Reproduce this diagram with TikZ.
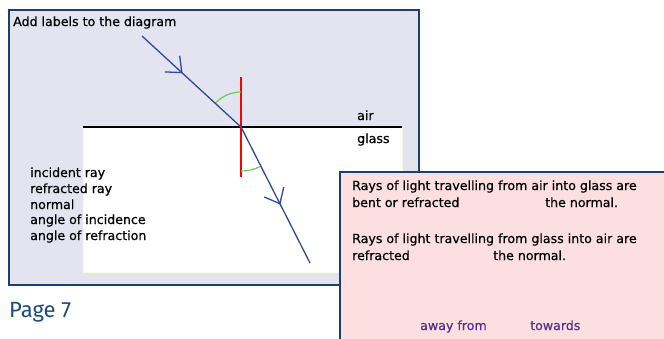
\documentclass[tikz,border=0pt]{standalone}
\usepackage{fontspec}
\setmainfont[BoldFont={DejaVu Sans}, BoldFeatures={FakeBold=0.6}]{DejaVu Sans}
\newfontfamily\pagefont{Fira Sans}
\usetikzlibrary{decorations.markings,arrows.meta}
\definecolor{panelA}{HTML}{E4E4F0}
\definecolor{panelB}{HTML}{FCE0E1}
\definecolor{frame}{HTML}{1B3F6E}
\definecolor{ray}{HTML}{2E4A9E}
\definecolor{arcg}{HTML}{66C845}
\definecolor{purp}{HTML}{5A2D91}
\definecolor{pagec}{HTML}{1F4A7C}
\tikzset{
  txt/.style={anchor=base west, inner sep=0pt, font=\bfseries\fontsize{12.6}{14}\selectfont},
  panel/.style={draw=frame, line width=2.6pt},
  raystyle/.style={draw=ray, line width=1.3pt},
  chev/.style={postaction={decorate}, decoration={markings, mark=at position #1 with {\arrow[ray, line width=1.3pt]{Straight Barb[length=13pt,width=22pt]}}}}
}
\begin{document}
\begin{tikzpicture}[x=1pt,y=-1pt]
\useasboundingbox (0,0) rectangle (664,338);
\clip (0,0) rectangle (664,338);
% panel 1
\path[panel, fill=panelA] (9,10) rectangle (419,285);
\path[fill=white, draw={rgb,255:red,250;green,250;blue,225}, line width=0.8pt] (83,127) rectangle (402,272);
\draw[line width=1.3pt, black] (83,127) -- (402,127);
\coordinate (ip) at (241,127);
\coordinate (rs) at (142,36);
\coordinate (re) at (310,263);
\coordinate (nt) at (241,77);
\coordinate (nb) at (241,177);
\draw[red, line width=1.3pt] (nt) -- (nb);
\draw[arcg, line width=1.1pt] (ip) ++(222.6:35) arc[start angle=222.6, end angle=270, radius=35];
\draw[arcg, line width=1.1pt] (ip) ++(63:44) arc[start angle=63, end angle=90, radius=44];
\draw[raystyle, chev=0.41] (rs) -- (ip);
\draw[raystyle, chev=0.57] (ip) -- (re);
\node[txt] (title) at (13,26) {Add labels to the diagram};
\node[txt] (air) at (357,120) {air};
\node[txt] (glass) at (357,143) {glass};
\node[txt] (l1) at (30,177) {incident ray};
\node[txt] (l2) at (30,193) {refracted ray};
\node[txt] (l3) at (30,209) {normal};
\node[txt] (l4) at (30,224) {angle of incidence};
\node[txt] (l5) at (30,240) {angle of refraction};
\node[anchor=base west, inner sep=0pt, text=pagec, font=\pagefont\fontsize{22}{24}\selectfont] (page) at (9,317) {Page 7};
% panel 2
\path[panel, fill=panelB] (340,172) rectangle (680,350);
\node[txt] (p1) at (352,190) {Rays of light travelling from air into glass are};
\node[txt] (p2) at (352,207) {bent or refracted};
\node[txt] (p2b) at (545,207) {the normal.};
\node[txt] (p3) at (352,243) {Rays of light travelling from glass into air are};
\node[txt] (p4) at (352,260) {refracted};
\node[txt] (p4b) at (493,260) {the normal.};
\node[txt, text=purp] (w1) at (420,330) {away from};
\node[txt, text=purp] (w2) at (530,330) {towards};
\end{tikzpicture}
\end{document}
